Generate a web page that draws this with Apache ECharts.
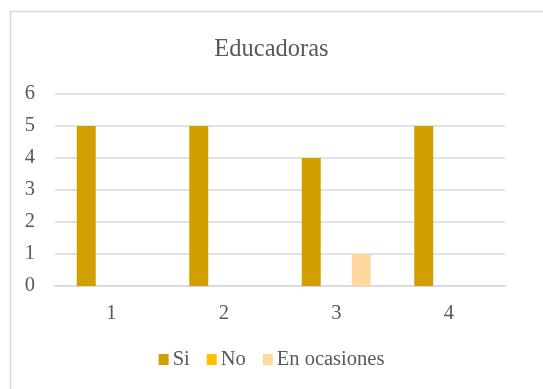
<!DOCTYPE html>
<html>
<head>
<meta charset="utf-8">
<script src="https://cdn.jsdelivr.net/npm/echarts@6/dist/echarts.min.js"></script>
<style>
  html, body { margin: 0; padding: 0; background: #fff; }
  #chart { width: 543px; height: 389px; }
</style>
</head>
<body>
<div id="chart"></div>
<script>
const categories = ["1", "2", "3", "4"];
const siValues = [5, 5, 4, 5];
const noValues = [0, 0, 0, 0];
const ocasionesValues = [0, 0, 1, 0];

const chart = echarts.init(document.getElementById("chart"));
const font = "'Liberation Serif', 'Times New Roman', serif";
const textColor = "#595959";

chart.setOption({
  animation: false,
  textStyle: { fontFamily: font },
  graphic: [
    {
      type: "rect",
      shape: { x: 10.5, y: 11.5, width: 560, height: 420 },
      style: { fill: "none", stroke: "#d9d9d9", lineWidth: 1.5 },
      silent: true,
    },
  ],
  title: {
    text: "Educadoras",
    left: "center",
    top: 32,
    textStyle: { fontFamily: font, fontSize: 24.5, fontWeight: "normal", color: textColor },
  },
  legend: {
    bottom: 14,
    left: "center",
    itemWidth: 10,
    itemHeight: 11,
    itemGap: 17,
    icon: "rect",
    textStyle: { fontFamily: font, fontSize: 20.5, color: textColor, padding: [0, 0, 0, -1] },
    data: ["Si", "No", "En ocasiones"],
  },
  grid: { left: 55, right: 38, top: 94, bottom: 103, containLabel: false },
  xAxis: {
    type: "category",
    data: categories,
    axisLine: { show: true, lineStyle: { color: "#d9d9d9", width: 1.5 } },
    axisTick: { show: false },
    axisLabel: { fontFamily: font, fontSize: 20.5, color: textColor, margin: 17 },
  },
  yAxis: {
    type: "value",
    min: 0,
    max: 6,
    interval: 1,
    axisLine: { show: false },
    axisTick: { show: false },
    axisLabel: { fontFamily: font, fontSize: 20.5, color: textColor, margin: 20 },
    splitLine: { lineStyle: { color: "#d9d9d9", width: 1.5 } },
  },
  series: [
    {
      name: "Si",
      type: "bar",
      data: siValues,
      barWidth: 19,
      barGap: "31.6%",
      itemStyle: { color: "#d29f00" },
    },
    {
      name: "No",
      type: "bar",
      data: noValues,
      barWidth: 19,
      barGap: "31.6%",
      itemStyle: { color: "#ffc000" },
    },
    {
      name: "En ocasiones",
      type: "bar",
      data: ocasionesValues,
      barWidth: 19,
      barGap: "31.6%",
      itemStyle: { color: "#ffd89f" },
    },
  ],
});
</script>
</body>
</html>
